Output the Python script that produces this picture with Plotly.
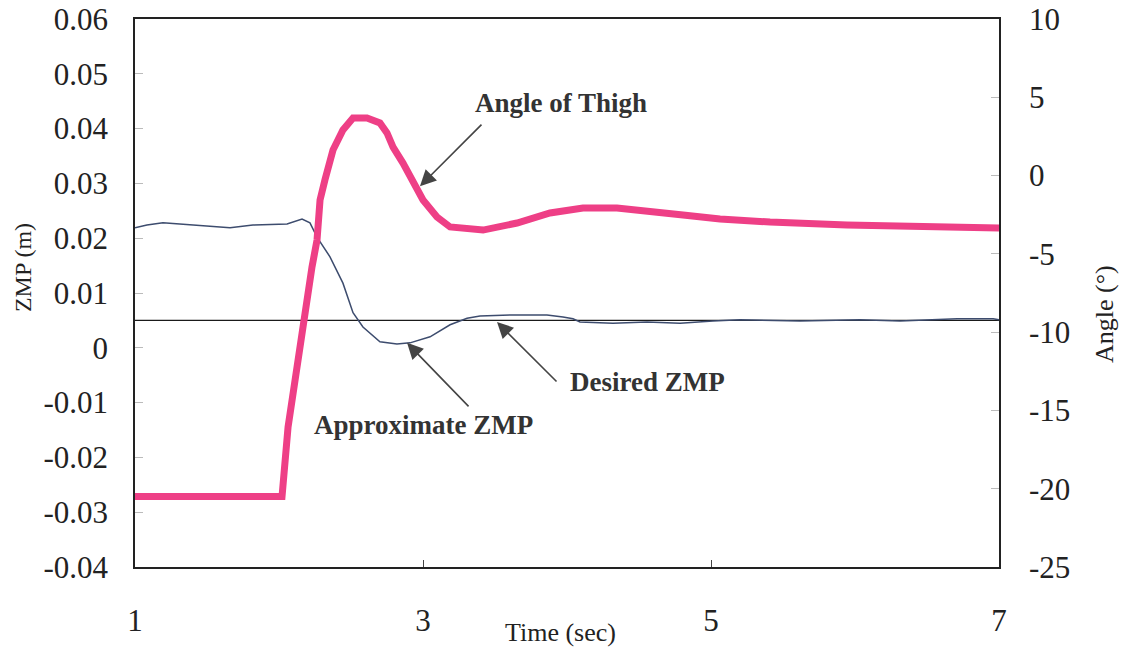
import plotly.graph_objects as go

# Approximate ZMP (m) vs time (s)
zmp_t = [1.00, 1.083, 1.194, 1.382, 1.66, 1.819, 2.056, 2.16, 2.215, 2.264, 2.354, 2.444,
         2.514, 2.583, 2.701, 2.819, 2.91, 3.049, 3.188, 3.306, 3.396, 3.625, 3.861, 3.972,
         4.042, 4.09, 4.319, 4.556, 4.785, 5.014, 5.201, 5.618, 6.035, 6.313, 6.71, 6.96, 7.0]
zmp_v = [0.0219, 0.0224, 0.0228, 0.0224, 0.0219, 0.0224, 0.0226, 0.0235, 0.0228, 0.0202, 0.0166, 0.0118,
         0.0064, 0.0038, 0.0011, 0.0007, 0.0009, 0.0020, 0.0042, 0.0054, 0.0058, 0.0060, 0.0060, 0.0056,
         0.0053, 0.0047, 0.0045, 0.0047, 0.0045, 0.0049, 0.0051, 0.0049, 0.0051, 0.0049, 0.0053, 0.0053, 0.0051]

# Desired ZMP (m)
des_t = [1.0, 7.0]
des_v = [0.005, 0.005]

# Angle of thigh (deg)
ang_t = [1.0, 1.451, 1.799, 2.021, 2.063, 2.125, 2.167, 2.229, 2.264, 2.285, 2.319, 2.375,
         2.444, 2.514, 2.611, 2.701, 2.75, 2.792, 2.861, 2.931, 3.0, 3.097, 3.188, 3.417,
         3.653, 3.882, 4.111, 4.347, 4.576, 4.806, 5.063, 5.41, 5.944, 6.451, 7.0]
ang_v = [-20.5, -20.5, -20.5, -20.5, -16.06, -12.23, -9.22, -5.84, -4.12, -1.56, -0.28, 1.63,
         2.91, 3.68, 3.68, 3.36, 2.72, 1.82, 0.80, -0.28, -1.56, -2.65, -3.28, -3.48,
         -3.03, -2.39, -2.07, -2.07, -2.33, -2.52, -2.77, -2.97, -3.16, -3.28, -3.35]

x_ticks = [1, 3, 5, 7]
y1_ticks = [0.06, 0.05, 0.04, 0.03, 0.02, 0.01, 0, -0.01, -0.02, -0.03, -0.04]
y1_labels = ["0.06", "0.05", "0.04", "0.03", "0.02", "0.01", "0", "-0.01", "-0.02", "-0.03", "-0.04"]
y2_ticks = [10, 5, 0, -5, -10, -15, -20, -25]
y2_labels = ["10", "5", "0", "-5", "-10", "-15", "-20", "-25"]

FONT = "Liberation Serif"

fig = go.Figure()
fig.add_trace(go.Scatter(x=ang_t, y=ang_v, yaxis="y2", mode="lines",
                         line=dict(color="#ee3f86", width=7), showlegend=False))
fig.add_trace(go.Scatter(x=des_t, y=des_v, mode="lines",
                         line=dict(color="#1a1a1a", width=1.3), showlegend=False))
fig.add_trace(go.Scatter(x=zmp_t, y=zmp_v, mode="lines",
                         line=dict(color="#3d4c6e", width=1.5), showlegend=False))

arrow = dict(showarrow=True, arrowhead=2, arrowsize=2.0, arrowwidth=1.6,
             arrowcolor="#444444", text="", xref="x", yref="y")
fig.add_annotation(x=2.979, y=0.0295, ax=63, ay=-63, **arrow)
fig.add_annotation(x=2.889, y=0.0009, ax=63, ay=65, **arrow)
fig.add_annotation(x=3.514, y=0.0047, ax=61, ay=61, **arrow)

lab = dict(showarrow=False, xref="x", yref="y",
           font=dict(family=FONT, size=27, color="#333333"))
fig.add_annotation(x=3.958, y=0.0447, text="<b>Angle of Thigh</b>", **lab)
fig.add_annotation(x=3.0, y=-0.0141, text="<b>Approximate ZMP</b>", **lab)
fig.add_annotation(x=4.556, y=-0.0062, text="<b>Desired ZMP</b>", **lab)

# axis titles
ttl = dict(showarrow=False, xref="paper", yref="paper",
           xanchor="center", yanchor="middle")
fig.add_annotation(x=-0.1296, y=0.5456, text="ZMP (m)", textangle=-90,
                   font=dict(family=FONT, size=24, color="#222222"), **ttl)
fig.add_annotation(x=1.1227, y=0.4617, text="Angle (°)", textangle=-90,
                   font=dict(family=FONT, size=26, color="#222222"), **ttl)
fig.add_annotation(x=0.492, y=-0.120, text="Time (sec)",
                   font=dict(family=FONT, size=26, color="#222222"), **ttl)

fig.update_layout(
    width=1121, height=651,
    margin=dict(l=135, r=122, t=19, b=84, autoexpand=False),
    plot_bgcolor="white", paper_bgcolor="white",
    font=dict(family=FONT, size=31, color="#222222"),
    xaxis=dict(range=[1, 7], tickvals=x_ticks, ticktext=[str(v) for v in x_ticks],
               showgrid=False, zeroline=False, showline=True, linecolor="#222222",
               linewidth=1.5, mirror=True, ticks="inside", ticklen=7, tickcolor="#444444",
               ticklabelstandoff=25, automargin=False),
    yaxis=dict(range=[-0.04, 0.06], tickvals=y1_ticks, ticktext=y1_labels,
               showgrid=False, zeroline=False, showline=True, linecolor="#222222",
               linewidth=1.5, ticks="inside", ticklen=8, tickcolor="#bbbbbb",
               ticklabelstandoff=19, automargin=False),
    yaxis2=dict(range=[-25, 10], tickvals=y2_ticks, ticktext=y2_labels,
                overlaying="y", side="right",
                showgrid=False, zeroline=False, showline=True, linecolor="#222222",
                linewidth=1.5, ticks="inside", ticklen=8, tickcolor="#bbbbbb",
                ticklabelstandoff=22, automargin=False),
)

fig.write_html("out.html")
